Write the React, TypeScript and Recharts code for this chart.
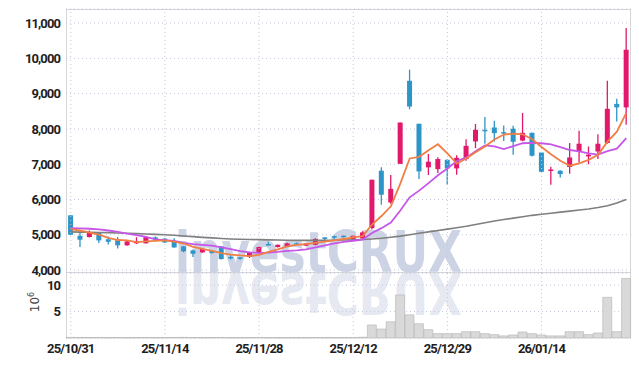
import React from "react";
import {
  Bar,
  CartesianGrid,
  ComposedChart,
  Line,
  ReferenceLine,
  XAxis,
  YAxis,
} from "recharts";

const dates = [
  "25/10/31", "25/11/03", "25/11/04", "25/11/05", "25/11/06", "25/11/07", "25/11/10", "25/11/11", "25/11/12", "25/11/13",
  "25/11/14", "25/11/17", "25/11/18", "25/11/19", "25/11/20", "25/11/21", "25/11/24", "25/11/25", "25/11/26", "25/11/27",
  "25/11/28", "25/12/01", "25/12/02", "25/12/03", "25/12/04", "25/12/05", "25/12/08", "25/12/09", "25/12/10", "25/12/11",
  "25/12/12", "25/12/15", "25/12/16", "25/12/17", "25/12/18", "25/12/19", "25/12/22", "25/12/23", "25/12/24", "25/12/26",
  "25/12/29", "25/12/30", "26/01/02", "26/01/05", "26/01/06", "26/01/07", "26/01/08", "26/01/09", "26/01/12", "26/01/13",
  "26/01/14", "26/01/15", "26/01/16", "26/01/19", "26/01/20", "26/01/21", "26/01/22", "26/01/23", "26/01/26", "26/01/27",
];

const opens = [
  5550, 4970, 4935, 5050, 4870, 4840, 4700, 4780, 4755, 4925,
  4890, 4810, 4670, 4555, 4500, 4545, 4670, 4370, 4360, 4370,
  4480, 4735, 4650, 4660, 4755, 4690, 4715, 4925, 4960, 4970,
  4880, 4895, 5190, 6815, 5915, 7010, 9365, 8146, 6910, 6860,
  7125, 6880, 7145, 7645, 7975, 8040, 7910, 8005, 7670, 7890,
  7330, 6820, 6815, 6920, 7360, 7220, 7360, 7600, 8710, 8610,
];
const highs = [
  5550, 5090, 5120, 5060, 4950, 4935, 4820, 4930, 4950, 4950,
  4900, 4900, 4680, 4580, 4620, 4560, 4680, 4420, 4370, 4520,
  4660, 4800, 4720, 4770, 4780, 4760, 4900, 4930, 4970, 4980,
  4980, 5100, 6560, 6910, 6690, 8180, 9676, 8150, 7290, 7200,
  7130, 7250, 7710, 8140, 8335, 8230, 8100, 8090, 8450, 7900,
  7340, 6925, 6830, 7600, 7950, 7500, 7850, 9365, 8855, 10860,
];
const lows = [
  4990, 4650, 4920, 4765, 4725, 4610, 4690, 4740, 4750, 4860,
  4770, 4630, 4500, 4370, 4490, 4470, 4300, 4300, 4290, 4340,
  4470, 4700, 4640, 4650, 4720, 4680, 4700, 4820, 4870, 4920,
  4870, 4880, 5150, 5850, 5880, 7010, 8560, 6580, 6690, 6750,
  6420, 6700, 7100, 7450, 7580, 7645, 7660, 7270, 7650, 7220,
  6770, 6415, 6620, 6730, 7050, 7000, 7150, 7580, 8210, 8120,
];
const closes = [
  5000, 4860, 5050, 4840, 4800, 4700, 4810, 4800, 4935, 4870,
  4780, 4640, 4530, 4460, 4600, 4480, 4310, 4340, 4340, 4510,
  4650, 4720, 4715, 4755, 4730, 4755, 4880, 4905, 4930, 4925,
  4970, 5065, 6560, 6135, 6300, 8180, 8635, 6795, 7070, 7145,
  6880, 7180, 7520, 7975, 7950, 7880, 7880, 7635, 7890, 7240,
  6785, 6850, 6720, 7190, 7580, 7270, 7580, 8570, 8610, 10245,
];

// moving averages (orange, purple, grey)
const ma5 = [
  5160, 5120, 5060, 5000, 4910, 4850, 4840, 4790, 4809, 4823,
  4839, 4805, 4751, 4656, 4602, 4542, 4476, 4438, 4414, 4396,
  4430, 4512, 4587, 4670, 4714, 4735, 4767, 4805, 4840, 4879,
  4922, 4959, 5290, 5531, 5806, 6448, 7162, 7209, 7396, 7565,
  7305, 7014, 7159, 7340, 7501, 7701, 7841, 7864, 7847, 7705,
  7486, 7280, 7097, 6957, 7025, 7122, 7268, 7638, 7922, 8455,
];
const ma10 = [
  5190, 5180, 5170, 5150, 5120, 5080, 5030, 4990, 4940, 4867,
  4845, 4823, 4771, 4733, 4713, 4691, 4641, 4595, 4535, 4499,
  4486, 4494, 4513, 4542, 4555, 4583, 4640, 4696, 4755, 4797,
  4829, 4863, 5048, 5186, 5343, 5685, 6061, 6250, 6464, 6686,
  6877, 7088, 7184, 7368, 7533, 7503, 7428, 7512, 7594, 7603,
  7594, 7561, 7481, 7402, 7365, 7304, 7274, 7368, 7440, 7740,
];
const ma60 = [
  5080, 5075, 5070, 5065, 5060, 5050, 5040, 5030, 5020, 5010,
  5000, 4985, 4965, 4945, 4925, 4910, 4895, 4880, 4870, 4865,
  4860, 4855, 4850, 4845, 4840, 4840, 4840, 4845, 4845, 4850,
  4855, 4865, 4880, 4900, 4930, 4960, 5000, 5040, 5080, 5120,
  5160, 5200, 5240, 5290, 5340, 5390, 5430, 5470, 5510, 5550,
  5580, 5610, 5640, 5670, 5700, 5730, 5770, 5820, 5900, 6000,
];

// volume, millions of shares
const volumes = [
  0.12, 0.1, 0.08, 0.1, 0.07, 0.09, 0.06, 0.07, 0.1, 0.06,
  0.08, 0.1, 0.12, 0.09, 0.07, 0.08, 0.1, 0.06, 0.05, 0.08,
  0.1, 0.06, 0.05, 0.06, 0.05, 0.06, 0.09, 0.07, 0.06, 0.05,
  0.08, 0.15, 2.46, 1.7, 3.08, 8.14, 4.39, 2.7, 1.58, 0.83,
  0.83, 0.83, 1.2, 1.2, 0.83, 0.64, 0.4, 0.58, 1.14, 0.83,
  0.58, 0.4, 0.4, 1.2, 1.2, 0.64, 0.96, 7.7, 1.2, 11.27,
];

const priceTicks = [4000, 5000, 6000, 7000, 8000, 9000, 10000, 11000];
const volumeTicks = [5, 10];

const RED = "#e2186b";
const BLUE = "#2e95c9";
const GRID = "#c4c8da";

const rows = dates.map((date, i) => ({
  date,
  o: opens[i],
  h: highs[i],
  l: lows[i],
  c: closes[i],
  range: [lows[i], highs[i]],
  ma5: ma5[i],
  ma10: ma10[i],
  ma60: ma60[i],
  vol: volumes[i],
}));

const gridDates = dates.filter((_, i) => i % 10 === 0);

const tickStyle = {
  fill: "#1e1e1e",
  fontSize: 13,
  fontFamily: "Roboto, sans-serif",
  fontWeight: 700,
  letterSpacing: -0.9,
};

function Candle(props: any) {
  const { x, y, width, height, payload } = props;
  const { o, h, l, c } = payload;
  const top = Math.min(y, y + height);
  const span = Math.abs(height);
  const py = (v: number) => top + ((h - v) / (h - l)) * span;
  const color = c >= o ? RED : BLUE;
  const cx = x + width / 2;
  const bTop = py(Math.max(o, c));
  const bH = Math.max(py(Math.min(o, c)) - bTop, 1.5);
  return (
    <g>
      <line x1={cx} x2={cx} y1={top} y2={top + span} stroke={color} strokeWidth={1.3} />
      <rect x={x} y={bTop} width={width} height={bH} fill={color} />
    </g>
  );
}

function Watermark() {
  const text = (fill: string) => (
    <text
      x={175}
      y={272}
      fontSize={57}
      fontWeight={700}
      fontFamily="DejaVu Sans, sans-serif"
      fill={fill}
      textLength={287}
      lengthAdjust="spacingAndGlyphs"
    >
      investCRUX
    </text>
  );
  return (
    <svg width={639} height={366} style={{ position: "absolute", left: 0, top: 0 }}>
      <defs>
        <clipPath id="wm-top">
          <rect x={66} y={9} width={565} height={264} />
        </clipPath>
        <clipPath id="wm-bot">
          <rect x={66} y={273} width={565} height={65} />
        </clipPath>
      </defs>
      <g clipPath="url(#wm-top)">{text("#ccd3e5")}</g>
      <g clipPath="url(#wm-bot)">
        <g transform="translate(0,545) scale(1,-1)">{text("#e6e9f1")}</g>
      </g>
      <text
        transform="translate(39,302) rotate(-90)"
        textAnchor="middle"
        fontSize={12}
        fontFamily="DejaVu Sans, sans-serif"
        fill="#444"
      >
        10
        <tspan dy={-5} fontSize={8}>6</tspan>
      </text>
    </svg>
  );
}

export default function App() {
  return (
    <div style={{ position: "absolute", left: 0, top: 0, width: 639, height: 366, background: "#fff" }}>
      <div
        style={{
          position: "absolute",
          left: 66,
          top: 9,
          width: 565,
          height: 329,
          border: "1px solid #d6d6d6",
          boxSizing: "border-box",
        }}
      />
      <div style={{ position: "absolute", left: 66, top: 272, width: 565, height: 1, background: "#d6d6d6" }} />
      <Watermark />

      <div style={{ position: "absolute", left: 0, top: 0 }}>
        <ComposedChart
          width={639}
          height={281}
          data={rows}
          margin={{ top: 9, right: 8, bottom: 8, left: 8 }}
          barCategoryGap="22%"
        >
          <CartesianGrid stroke={GRID} strokeDasharray="1 3" vertical={false} />
          {gridDates.map((d) => (
            <ReferenceLine key={d} x={d} stroke={GRID} strokeDasharray="1 3" />
          ))}
          <XAxis dataKey="date" hide />
          <YAxis
            domain={[3915, 11400]}
            ticks={priceTicks}
            interval={0}
            width={58}
            axisLine={false}
            tickLine={false}
            tickSize={6}
            tickMargin={0}
            tick={tickStyle}
            tickFormatter={(v) => Number(v).toLocaleString("en-US")}
            allowDataOverflow
          />
          <Bar dataKey="range" shape={<Candle />} isAnimationActive={false} />
          <Line type="linear" dataKey="ma60" stroke="#7f7f7f" strokeWidth={1.6} dot={false} isAnimationActive={false} />
          <Line type="linear" dataKey="ma10" stroke="#c656e8" strokeWidth={1.8} dot={false} isAnimationActive={false} />
          <Line type="linear" dataKey="ma5" stroke="#ef7f45" strokeWidth={1.8} dot={false} isAnimationActive={false} />
        </ComposedChart>
      </div>

      <div style={{ position: "absolute", left: 0, top: 273 }}>
        <ComposedChart
          width={639}
          height={93}
          data={rows}
          margin={{ top: 0, right: 8, bottom: 0, left: 8 }}
          barCategoryGap={0}
        >
          <CartesianGrid stroke={GRID} strokeDasharray="1 3" vertical={false} />
          {gridDates.map((d) => (
            <ReferenceLine key={d} x={d} stroke={GRID} strokeDasharray="1 3" />
          ))}
          <XAxis
            dataKey="date"
            interval={9}
            height={28}
            axisLine={false}
            tickLine={false}
            tickSize={6}
            tickMargin={0}
            tick={tickStyle}
          />
          <YAxis
            domain={[0, 12.3]}
            ticks={volumeTicks}
            interval={0}
            width={58}
            axisLine={false}
            tickLine={false}
            tickSize={6}
            tickMargin={0}
            tick={tickStyle}
          />
          <Bar dataKey="vol" fill="#d9d9d9" stroke="#b4b4b4" strokeWidth={0.6} isAnimationActive={false} />
        </ComposedChart>
      </div>
    </div>
  );
}
